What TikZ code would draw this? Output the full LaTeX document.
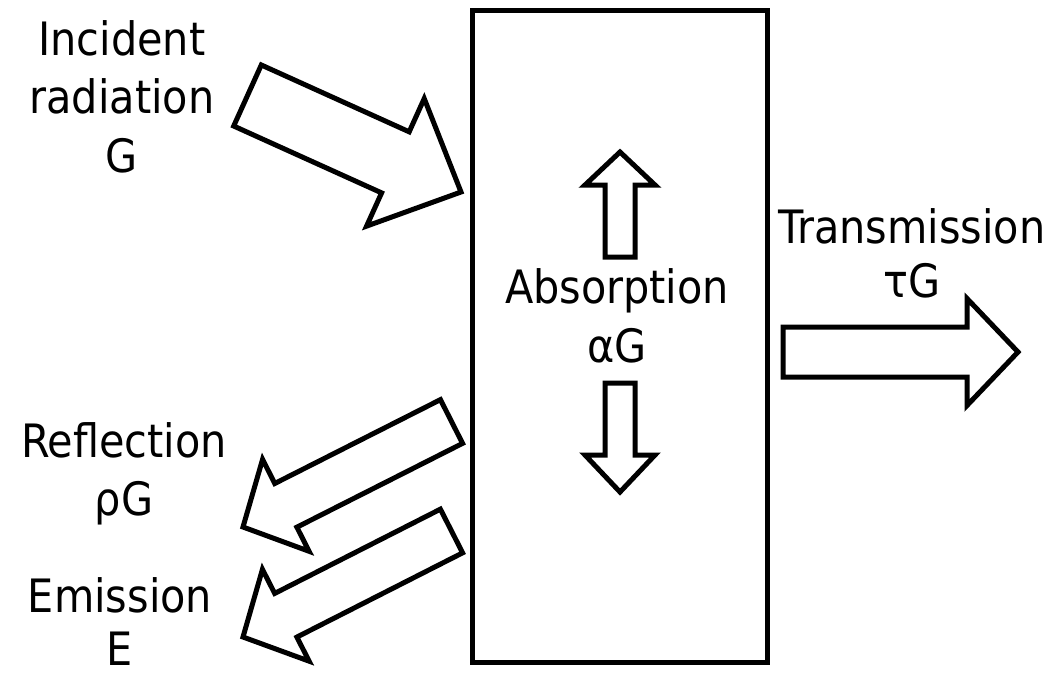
\documentclass[tikz,border=0pt]{standalone}
\usepackage{fontspec}
\setmainfont{DejaVu Sans Condensed}
\usetikzlibrary{calc}

% Hollow block arrow from a tail centre to a tip:
% #1 name, #2 tail, #3 tip, #4 half shaft width, #5 half head width, #6 head length
\newcommand\blockarrow[6]{%
  \coordinate (#1-h) at ($(#3)!#6!(#2)$);
  \draw[blk] ($(#2)!#4!90:(#3)$) -- ($(#1-h)!#4!90:(#3)$) -- ($(#1-h)!#5!90:(#3)$)
    -- (#3) -- ($(#1-h)!#5!-90:(#3)$) -- ($(#1-h)!#4!-90:(#3)$)
    -- ($(#2)!#4!-90:(#3)$) -- cycle;}

\begin{document}
\begin{tikzpicture}[x=1pt,y=-1pt,
  blk/.style={draw=black,line width=5pt,fill=white,line join=miter},
  lbl/.style={anchor=base,inner sep=0pt,font=\fontsize{46}{55}\selectfont}]
\useasboundingbox (0,0) rectangle (1059,673);

% the slab
\draw[line width=5pt] (472,10) rectangle (767,662);
\node[inner sep=0pt] (slab) at (619.5,336) {};

% arrow end points
\coordinate (inc-t) at (247.5,95.5);  \coordinate (inc-p) at (461,192);
\coordinate (ref-t) at (451.5,421.5); \coordinate (ref-p) at (243,527);
\coordinate (emi-t) at (451.5,531);   \coordinate (emi-p) at (243,637);
\coordinate (tra-t) at (783,352);     \coordinate (tra-p) at (1018,352);
\coordinate (up-t)  at (620,257);     \coordinate (up-p)  at (620,152);
\coordinate (dn-t)  at (620,383);     \coordinate (dn-p)  at (620,492);

\blockarrow{inc}{inc-t}{inc-p}{33.5pt}{70pt}{72pt}
\blockarrow{ref}{ref-t}{ref-p}{24.5pt}{51.5pt}{48pt}
\blockarrow{emi}{emi-t}{emi-p}{24.5pt}{51.5pt}{48pt}
\blockarrow{tra}{tra-t}{tra-p}{25pt}{53.5pt}{51pt}
\blockarrow{up}{up-t}{up-p}{15pt}{35pt}{33pt}
\blockarrow{dn}{dn-t}{dn-p}{15pt}{35pt}{37pt}

% labels
\node[lbl] (inc1) at (122,55)  {Incident};
\node[lbl] (inc2) at (122,113) {radiation};
\node[lbl] (inc3) at (122,172) {G};

\node[lbl] (abs1) at (617,303) {Absorption};
\node[lbl] (abs2) at (617,362) {αG};

\node[lbl] (tra1) at (912,243) {Transmission};
\node[lbl] (tra2) at (912,297) {τG};

\node[lbl] (ref1) at (124,457) {Reflection};
\node[lbl] (ref2) at (124,515) {ρG};

\node[lbl] (emi1) at (120,612) {Emission};
\node[lbl] (emi2) at (120,665) {E};
\end{tikzpicture}
\end{document}
